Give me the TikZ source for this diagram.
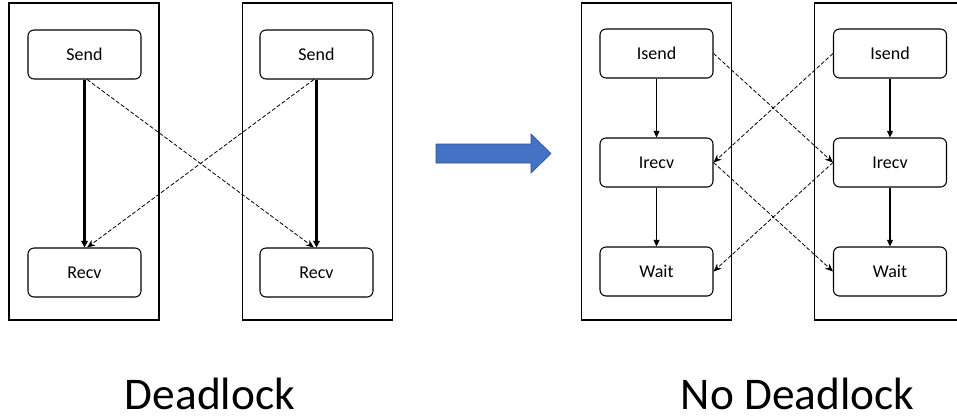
\documentclass[tikz,border=0pt]{standalone}
\usepackage{fontspec}
\setmainfont{Carlito}
\usetikzlibrary{arrows.meta, positioning}
\definecolor{arrowblue}{RGB}{68,114,196}
\definecolor{arrowedge}{RGB}{47,82,143}
\tikzset{
	panel/.style={draw, line width=0.9pt, minimum width=112.5pt, minimum height=237.75pt, inner sep=0pt},
	op/.style={draw, rounded corners=4.5pt, line width=0.8pt, minimum width=84.75pt, minimum height=36.75pt, inner sep=0pt, font=\fontsize{13.5}{15}\selectfont},
	order/.style={-{Triangle[length=5pt,width=5pt]}, line width=1.6pt},
	orderthin/.style={-{Triangle[length=5pt,width=4.5pt]}, line width=0.9pt},
	msg/.style={-{Stealth[length=6pt,width=5pt]}, dash pattern=on 3pt off 1.5pt, line width=0.6pt},
	caption/.style={font=\fontsize{34}{40}\selectfont, anchor=base, inner sep=0pt, text depth=0pt}
}
\begin{document}
\begin{tikzpicture}[x=0.75pt,y=-0.75pt]
	\useasboundingbox (0,0) rectangle (957,419);

	% processes
	\node[panel] (P1) at (84,161.5)		{};
	\node[panel] (P2) at (317.5,161.5)	{};
	\node[panel] (P3) at (656.5,161.5)	{};
	\node[panel] (P4) at (889.5,161.5)	{};

	% blocking version
	\node[op] (S1) at (84.5,54.5)	{Send};
	\node[op] (R1) at (84.5,272.5)	{Recv};
	\node[op] (S2) at (316.5,54.5)	{Send};
	\node[op] (R2) at (316.5,272.5)	{Recv};

	\draw[order] (S1) -- (R1);
	\draw[order] (S2) -- (R2);
	\draw[msg] ([xshift=2pt]S1.south) -- ([xshift=-2pt]R2.north);
	\draw[msg] ([xshift=-2pt]S2.south) -- ([xshift=2pt]R1.north);

	% non-blocking version
	\node[op] (I3) at (656.5,53.5)	{Isend};
	\node[op] (C3) at (656.5,162.5)	{Irecv};
	\node[op] (W3) at (656.5,271.5)	{Wait};
	\node[op] (I4) at (890,53.5)	{Isend};
	\node[op] (C4) at (890,162.5)	{Irecv};
	\node[op] (W4) at (890,271.5)	{Wait};

	\draw[orderthin] (I3) -- (C3);
	\draw[orderthin] (C3) -- (W3);
	\draw[orderthin] (I4) -- (C4);
	\draw[orderthin] (C4) -- (W4);
	\draw[msg] (I3.east) -- (C4.west);
	\draw[msg] (I4.west) -- (C3.east);
	\draw[msg] (C3.east) -- (W4.west);
	\draw[msg] (C4.west) -- (W3.east);

	% big arrow
	\draw[fill=arrowblue, draw=arrowedge, line width=0.5pt]
		(436,144) -- (531,144) -- (531,134) -- (551,153.5) -- (531,173) -- (531,163) -- (436,163) -- cycle;

	\node[caption] (dl) at (210,409)	{Deadlock};
	\node[caption] (ndl) at (797.5,409)	{No Deadlock};
\end{tikzpicture}
\end{document}
